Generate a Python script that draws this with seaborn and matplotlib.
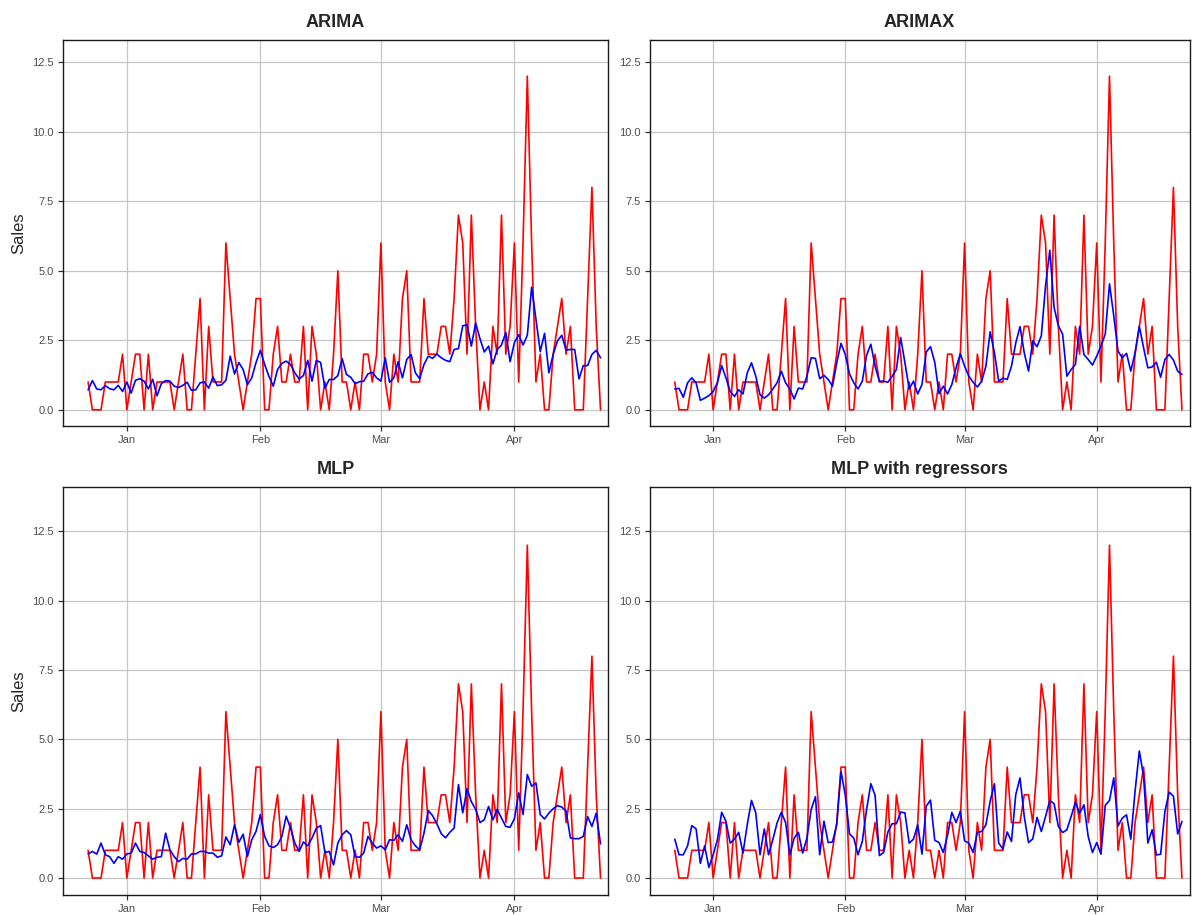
import matplotlib
matplotlib.use("Agg")
import matplotlib.pyplot as plt
import matplotlib.dates as mdates
import seaborn as sns
import pandas as pd
import numpy as np

# daily series, 2018-12-23 .. 2019-04-21
dates = pd.date_range("2018-12-23", "2019-04-21", freq="D")

actual = (
    [1, 0, 0, 0, 1, 1, 1, 1, 2]
    + [0, 1, 2, 2, 0, 2, 0, 1, 1, 1, 1, 0, 1, 2, 0, 0, 2, 4, 0, 3, 1, 1, 1, 6, 4, 2, 1, 0, 1, 2, 4]
    + [4, 0, 0, 2, 3, 1, 1, 2, 1, 1, 3, 0, 3, 2, 0, 1, 0, 2, 5, 1, 1, 0, 1, 0, 2, 2, 1, 2]
    + [6, 1, 0, 2, 1, 4, 5, 1, 1, 1, 4, 2, 2, 2, 3, 3, 2, 4, 7, 6, 2, 7, 3, 0, 1, 0, 3, 2, 7, 2, 3]
    + [6, 1, 6, 12, 6, 1, 2, 0, 0, 2, 3, 4, 2, 3, 0, 0, 0, 4, 8, 3, 0]
)

arima = (
    [0.72, 1.05, 0.75, 0.72, 0.87, 0.76, 0.72, 0.88, 0.66]
    + [1.0, 0.6, 1.06, 1.12, 1.03, 0.75, 1.1, 0.5, 0.94, 1.05, 1.03, 0.85, 0.8, 0.88, 0.99, 0.7,
       0.72, 0.97, 1.0, 0.78, 1.18, 0.87, 0.9, 1.06, 1.93, 1.29, 1.7, 1.45, 0.9, 1.15, 1.7]
    + [2.14, 1.63, 1.2, 0.85, 1.45, 1.67, 1.75, 1.63, 1.33, 1.11, 1.23, 1.78, 1.03, 1.78, 1.7,
       0.78, 1.09, 1.09, 1.23, 1.84, 1.27, 1.17, 0.94, 1.01, 1.03, 1.29, 1.35, 1.15]
    + [1.03, 1.87, 0.99, 1.15, 1.73, 1.15, 1.81, 1.99, 1.33, 1.12, 1.63, 1.93, 1.85, 2.0, 1.87,
       1.78, 1.73, 2.17, 2.2, 3.02, 3.06, 2.29, 3.12, 2.56, 2.08, 2.29, 1.65, 2.17, 2.33, 2.78, 1.73]
    + [2.42, 2.7, 2.33, 2.68, 4.41, 3.26, 2.09, 2.75, 1.33, 1.99, 2.48, 2.68, 2.15, 2.17, 2.17,
       1.11, 1.59, 1.59, 1.99, 2.14, 1.87]
)

arimax = (
    [0.75, 0.77, 0.45, 0.97, 1.15, 0.97, 0.34, 0.42, 0.51]
    + [0.66, 0.97, 1.59, 1.15, 0.66, 0.48, 0.72, 0.57, 1.33, 1.69, 1.21, 0.54, 0.42, 0.54, 0.75,
       0.97, 1.39, 0.97, 0.75, 0.39, 0.78, 0.75, 1.21, 1.87, 1.85, 1.12, 1.24, 1.09, 0.85, 1.69, 2.39]
    + [1.99, 1.29, 0.97, 0.75, 1.03, 1.96, 2.36, 1.57, 1.03, 1.03, 0.99, 1.21, 1.45, 2.6, 1.69,
       0.75, 1.03, 0.57, 0.91, 2.08, 2.27, 1.71, 0.58, 0.85, 0.57, 0.91, 1.51, 2.02]
    + [1.57, 1.21, 0.99, 0.82, 1.03, 1.57, 2.81, 2.05, 1.03, 1.14, 1.09, 1.57, 2.4, 2.99, 2.05,
       1.39, 2.48, 2.27, 2.66, 4.47, 5.74, 3.68, 3.02, 2.72, 1.21, 1.45, 1.63, 3.0, 1.99, 1.81, 1.61]
    + [1.93, 2.29, 2.72, 4.53, 3.38, 2.11, 1.87, 2.03, 1.39, 2.05, 3.0, 2.23, 1.51, 1.54, 1.71,
       1.17, 1.81, 1.99, 1.79, 1.39, 1.27]
)

mlp = (
    [0.87, 0.96, 0.86, 1.26, 0.84, 0.77, 0.53, 0.77, 0.68]
    + [0.87, 0.9, 1.26, 0.96, 0.92, 0.8, 0.68, 0.75, 0.77, 1.62, 1.02, 0.77, 0.59, 0.71, 0.68,
       0.87, 0.87, 0.96, 0.96, 0.9, 0.9, 0.75, 0.8, 1.48, 1.2, 1.92, 1.29, 1.58, 0.77, 1.38, 1.68]
    + [2.29, 1.5, 1.16, 1.1, 1.2, 1.5, 2.23, 1.8, 1.26, 0.96, 1.3, 1.16, 1.44, 1.8, 1.89,
       0.92, 0.96, 0.47, 1.26, 1.56, 1.71, 1.56, 0.77, 0.75, 0.9, 1.5, 1.26, 1.08]
    + [1.16, 1.02, 1.38, 1.36, 1.56, 1.32, 1.92, 1.38, 1.16, 1.02, 1.62, 2.43, 2.25, 1.95, 1.6,
       1.45, 1.65, 1.8, 3.37, 2.35, 3.22, 2.75, 2.48, 2.0, 2.1, 2.58, 2.1, 2.48, 2.16, 1.86, 1.83]
    + [2.14, 3.07, 2.29, 3.73, 3.31, 3.43, 2.29, 2.13, 2.34, 2.5, 2.61, 2.56, 2.41, 1.45, 1.42,
       1.42, 1.5, 2.22, 1.86, 2.34, 1.23]
)

mlp_reg = (
    [1.4, 0.84, 0.84, 1.16, 1.89, 1.77, 0.53, 1.16, 0.38]
    + [0.84, 1.38, 2.37, 2.05, 1.26, 1.4, 1.65, 0.9, 1.92, 2.8, 2.35, 0.84, 1.77, 0.84, 1.38,
       1.99, 2.37, 2.0, 0.84, 1.44, 1.65, 0.9, 1.44, 2.47, 2.93, 0.84, 2.05, 1.28, 1.3, 1.92, 3.84]
    + [3.0, 1.59, 1.44, 0.84, 1.32, 2.47, 3.4, 2.98, 0.81, 0.92, 1.66, 1.96, 1.96, 2.38, 2.35,
       1.26, 1.4, 1.92, 0.86, 2.59, 2.81, 1.36, 1.28, 0.92, 1.54, 2.37, 2.0, 2.41]
    + [1.34, 1.26, 0.92, 1.65, 1.68, 1.92, 2.77, 3.4, 1.26, 1.05, 1.66, 1.32, 3.0, 3.61, 2.22,
       1.28, 1.41, 2.19, 1.68, 2.22, 2.8, 2.68, 1.86, 1.64, 1.74, 2.22, 2.73, 2.34, 2.64, 1.5, 0.92]
    + [1.28, 0.86, 2.62, 2.8, 3.61, 1.88, 2.16, 2.28, 1.4, 3.13, 4.58, 3.67, 1.26, 1.74, 0.83,
       0.86, 2.4, 3.1, 2.95, 1.59, 2.04]
)

titles = ["ARIMA", "ARIMAX", "MLP", "MLP with regressors"]
forecasts = [arima, arimax, mlp, mlp_reg]
y_ticks = [0.0, 2.5, 5.0, 7.5, 10.0, 12.5]
month_ticks = pd.to_datetime(["2019-01-01", "2019-02-01", "2019-03-01", "2019-04-01"])
month_labels = ["Jan", "Feb", "Mar", "Apr"]

sns.set_style("white")
plt.rcParams["font.family"] = ["Liberation Sans", "DejaVu Sans"]

fig = plt.figure(figsize=(11.92, 9.15), dpi=100)

# panel rectangles (left, bottom, width, height) and y range per row
rects = [
    [0.0526, 0.5348, 0.4577, 0.4215],
    [0.5450, 0.5348, 0.4530, 0.4215],
    [0.0526, 0.0219, 0.4577, 0.4459],
    [0.5450, 0.0219, 0.4530, 0.4459],
]
ylims = [(-0.57, 13.3), (-0.57, 13.3), (-0.61, 14.1), (-0.61, 14.1)]
xlim = (dates[0] - pd.Timedelta(days=5.9), dates[-1] + pd.Timedelta(days=1.8))

for i, (title, pred) in enumerate(zip(titles, forecasts)):
    ax = fig.add_axes(rects[i])
    df = pd.DataFrame({
        "date": list(dates) * 2,
        "value": list(actual) + list(pred),
        "series": ["actual"] * len(dates) + ["forecast"] * len(dates),
    })
    sns.lineplot(data=df, x="date", y="value", hue="series",
                 palette={"actual": "#FF0000", "forecast": "#0000FF"},
                 linewidth=1.2, legend=False, ax=ax, estimator=None)
    ax.set_xlim(xlim)
    ax.set_ylim(ylims[i])
    ax.set_yticks(y_ticks)
    ax.set_yticklabels([f"{v:.1f}" for v in y_ticks])
    ax.set_xticks(month_ticks)
    ax.set_xticklabels(month_labels)
    ax.grid(True, color="#C4C4C4", linewidth=0.9)
    ax.set_axisbelow(True)
    for sp in ax.spines.values():
        sp.set_color("#1A1A1A")
        sp.set_linewidth(1.0)
    ax.tick_params(axis="both", length=3.5, width=0.9, color="#333333",
                   labelsize=8, labelcolor="#4D4D4D", pad=3, bottom=True, left=True)
    ax.set_xlabel("")
    ax.set_ylabel("Sales" if i % 2 == 0 else "", fontsize=12, labelpad=4)
    ax.set_title(title, fontsize=13, fontweight="bold", pad=9)

fig.savefig("out.png", dpi=100)
